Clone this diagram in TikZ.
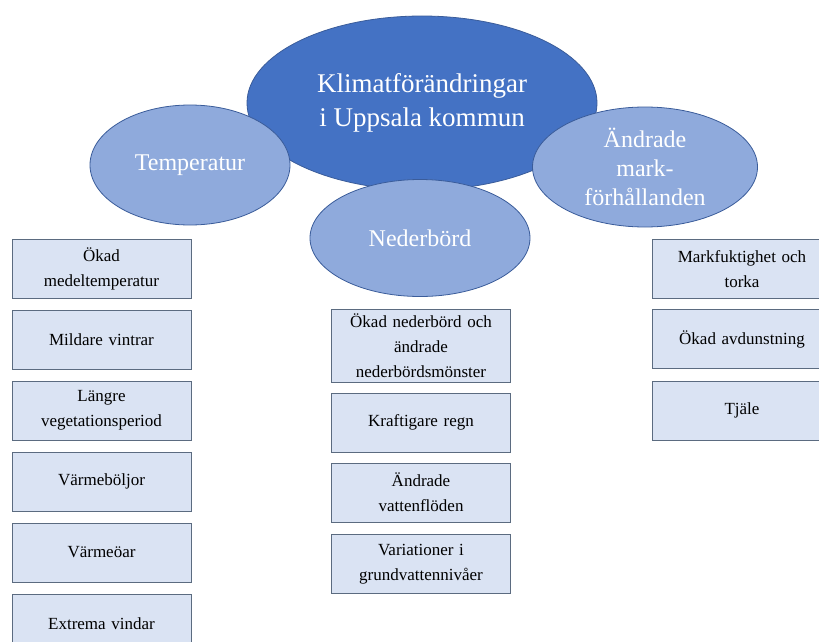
\documentclass[tikz,border=0pt]{standalone}
\usepackage{fontspec}
\setmainfont{Liberation Serif}
\usepackage{tikz}
\usetikzlibrary{shapes.geometric}

\definecolor{mainblue}{HTML}{4472C4}
\definecolor{subblue}{HTML}{8FAADC}
\definecolor{boxfill}{HTML}{DAE3F3}
\definecolor{rimblue}{HTML}{3A5C9A}
\definecolor{boxrim}{HTML}{5B6B80}

\tikzset{
  mainell/.style={ellipse,draw=rimblue,line width=0.8pt,fill=mainblue,text=white,inner sep=0pt,
    align=center,font=\fontsize{27}{34}\selectfont},
  subell/.style={ellipse,draw=rimblue,line width=0.8pt,fill=subblue,text=white,inner sep=0pt,
    align=center,font=\fontsize{24}{29}\selectfont},
  itembox/.style={rectangle,draw=boxrim,line width=1pt,fill=boxfill,inner sep=0pt,
    minimum width=179pt,minimum height=59pt,text width=172pt,align=center,
    font=\fontsize{17}{25}\selectfont}
}

\begin{document}
\begin{tikzpicture}[x=1pt,y=-1pt]
  \clip (0,0) rectangle (819,642);
  \fill[white] (0,0) rectangle (819,642);
  % ellipses
  \node[mainell,minimum width=350pt,minimum height=174pt] (klimat) at (422,103) {Klimatförändringar\\i Uppsala kommun};
  \node[subell,minimum width=200pt,minimum height=120pt] (temp) at (190,165) {Temperatur};
  \node[subell,minimum width=220pt,minimum height=117pt] (neder) at (420,238) {Nederbörd};
  \node[subell,minimum width=225pt,minimum height=120pt] (mark) at (645,167) {Ändrade\\mark-\\förhållanden};
  % temperatur
  \node[itembox] (t1) at (101.5,268.5) {Ökad\\medeltemperatur};
  \node[itembox] (t2) at (101.5,339.5) {Mildare vintrar};
  \node[itembox] (t3) at (101.5,410.5) {Längre\\vegetationsperiod};
  \node[itembox] (t4) at (101.5,481.5) {Värmeböljor};
  \node[itembox] (t5) at (101.5,552.5) {Värmeöar};
  \node[itembox] (t6) at (101.5,623.5) {Extrema vindar};
  % nederbörd
  \node[itembox,minimum height=73pt] (n1) at (421,345.5) {Ökad nederbörd och\\ändrade\\nederbördsmönster};
  \node[itembox] (n2) at (421,422.5) {Kraftigare regn};
  \node[itembox] (n3) at (421,492.5) {Ändrade\\vattenflöden};
  \node[itembox] (n4) at (421,564) {Variationer i\\grundvattennivåer};
  % markförhållanden
  \node[itembox] (m1) at (742,269) {Markfuktighet och\\torka};
  \node[itembox] (m2) at (742,339) {Ökad avdunstning};
  \node[itembox] (m3) at (742,410.5) {Tjäle};
\end{tikzpicture}
\end{document}
